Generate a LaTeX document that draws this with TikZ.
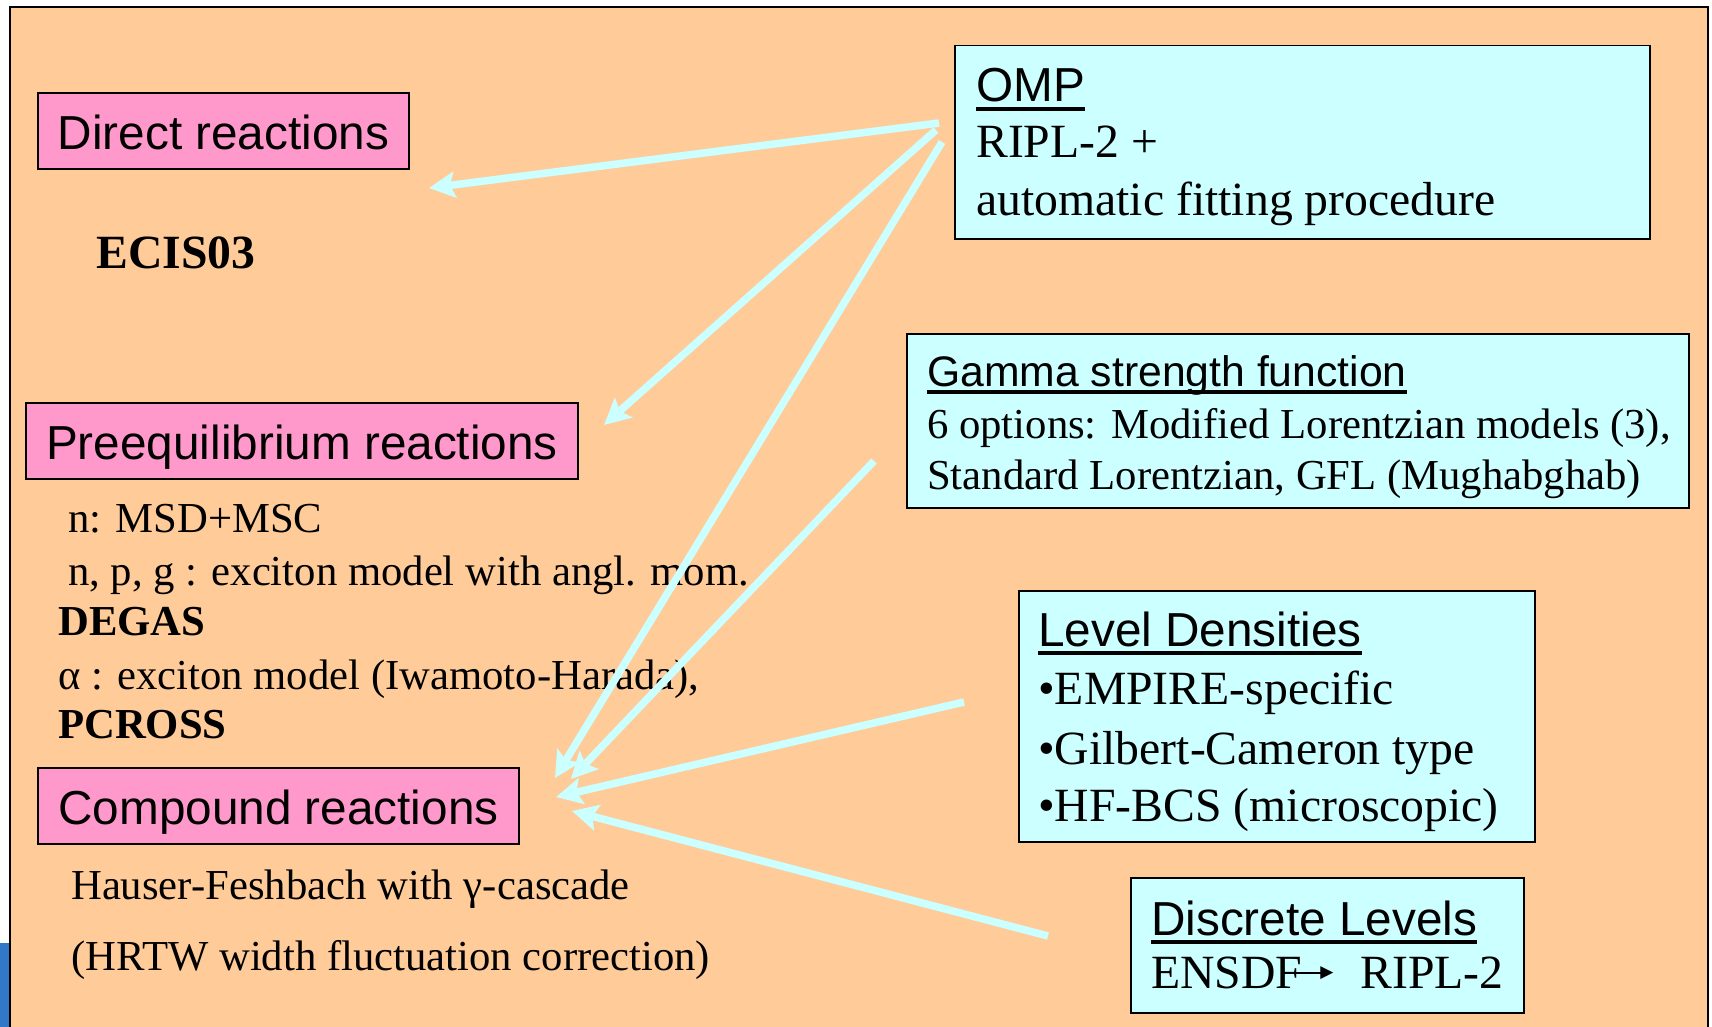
\documentclass[tikz,border=0pt]{standalone}
\usepackage{fontspec}
\setmainfont{Liberation Serif}
\newfontfamily\arialf{Liberation Sans}
\newfontfamily\dejavuf{DejaVu Sans}
\usetikzlibrary{arrows.meta}
\definecolor{peach}{RGB}{255,204,153}
\definecolor{pinkc}{RGB}{255,153,204}
\definecolor{cyanc}{RGB}{204,255,255}
\definecolor{logoblue}{RGB}{50,120,200}
\newsavebox\ulbox
\newcommand\ulx[1]{\sbox\ulbox{#1}\rlap{\rule[-0.19em]{\wd\ulbox}{0.085em}}\usebox\ulbox}
\newcommand\smallarrow{\kern-8pt\rule[14pt]{28pt}{2pt}\kern-2pt\raisebox{\dimexpr15pt-(\height-\depth)/2\relax}{\dejavuf\fontsize{17}{17}\selectfont ▶}}
\tikzset{
  pinkbox/.style={draw=black, line width=1.5pt, fill=pinkc, inner sep=0pt,
    font=\arialf\fontsize{47.7}{57}\selectfont, text height=40pt, text depth=3pt},
  cyanbox/.style={draw=black, line width=1.5pt, fill=cyanc, inner sep=0pt, anchor=north west},
  bigtxt/.style={font=\fontsize{47.7}{57}\selectfont, anchor=base west, inner sep=0pt},
  smalltxt/.style={font=\fontsize{42.7}{51}\selectfont, anchor=base west, inner sep=0pt},
  bigtitle/.style={font=\arialf\fontsize{47.7}{57}\selectfont, anchor=base west, inner sep=0pt},
  smalltitle/.style={font=\arialf\fontsize{42.7}{51}\selectfont, anchor=base west, inner sep=0pt},
  conn/.style={draw=cyanc, line width=7.5pt, -{Stealth[length=26pt,width=26pt,inset=5pt]}}
}
\begin{document}
\begin{tikzpicture}[x=1pt,y=-1pt]
\useasboundingbox (0,0) rectangle (1712,1027);
\fill[logoblue] (0,943) rectangle (12,1027);
\draw[fill=peach, line width=2pt] (10,7) rectangle (1708,1040);

% pink boxes
\node[pinkbox, minimum width=371pt, minimum height=76pt] (direct) at (223.5,131) {Direct reactions};
\node[pinkbox, minimum width=552pt, minimum height=76pt] (preeq) at (302,441) {Preequilibrium reactions};
\node[pinkbox, minimum width=481pt, minimum height=76pt] (compound) at (278.5,806) {Compound reactions};

% left texts
\node[bigtxt, font=\bfseries\fontsize{47.7}{57}\selectfont] (ecis) at (96,268) {ECIS03};
\node[smalltxt] (p1) at (68,532) {n: MSD+MSC};
\node[smalltxt] (p2) at (68,585) {n, p, g : exciton model with angl. mom.};
\node[smalltxt, font=\bfseries\fontsize{42.7}{51}\selectfont] (p3) at (58,635) {DEGAS};
\node[smalltxt] (p4) at (58,689) {α : exciton model (Iwamoto-Harada),};
\node[smalltxt, font=\bfseries\fontsize{42.7}{51}\selectfont] (p5) at (58,738) {PCROSS};
\node[smalltxt] (c1) at (71,899) {Hauser-Feshbach with γ-cascade};
\node[smalltxt] (c2) at (71,970) {(HRTW width fluctuation correction)};

% cyan boxes
\node[cyanbox, minimum width=695pt, minimum height=193pt] (omp) at (954,45) {};
\node[bigtitle] (omp1) at (976,102) {\ulx{OMP}};
\node[bigtxt] (omp2) at (976,158) {RIPL-2 +};
\node[bigtxt] (omp3) at (976,215) {automatic fitting procedure};

\node[cyanbox, minimum width=782pt, minimum height=174pt] (gamma) at (906,333) {};
\node[smalltitle] (g1) at (927,386) {\ulx{Gamma strength function}};
\node[smalltxt] (g2) at (927,438) {6 options: Modified Lorentzian models (3),};
\node[smalltxt] (g3) at (927,489) {Standard Lorentzian, GFL (Mughabghab)};

\node[cyanbox, minimum width=516pt, minimum height=251pt] (level) at (1018,590) {};
\node[bigtitle] (l1) at (1038,646) {\ulx{Level Densities}};
\node[bigtxt] (l2) at (1038,704) {•EMPIRE-specific};
\node[bigtxt] (l3) at (1038,764) {•Gilbert-Cameron type};
\node[bigtxt] (l4) at (1038,821) {•HF-BCS (microscopic)};

\node[cyanbox, minimum width=393pt, minimum height=135pt] (discrete) at (1130,877) {};
\node[bigtitle] (d1) at (1151,935) {\ulx{Discrete Levels}};
\node[bigtxt] (d2) at (1151,988) {ENSDF\smallarrow\kern27pt RIPL-2};

% connector end points
\coordinate (a1s) at (939,123); \coordinate (a1e) at (429,188);
\coordinate (a2s) at (936,130); \coordinate (a2e) at (604,425);
\coordinate (a3s) at (942,142); \coordinate (a3e) at (555,778);
\coordinate (a4s) at (874,461); \coordinate (a4e) at (571,779);
\coordinate (a5s) at (964,702); \coordinate (a5e) at (556,797);
\coordinate (a6s) at (1048,936); \coordinate (a6e) at (572,811);

\draw[conn] (a1s) -- (a1e);
\draw[conn] (a2s) -- (a2e);
\draw[conn] (a3s) -- (a3e);
\draw[conn] (a4s) -- (a4e);
\draw[conn] (a5s) -- (a5e);
\draw[conn] (a6s) -- (a6e);
\end{tikzpicture}
\end{document}
